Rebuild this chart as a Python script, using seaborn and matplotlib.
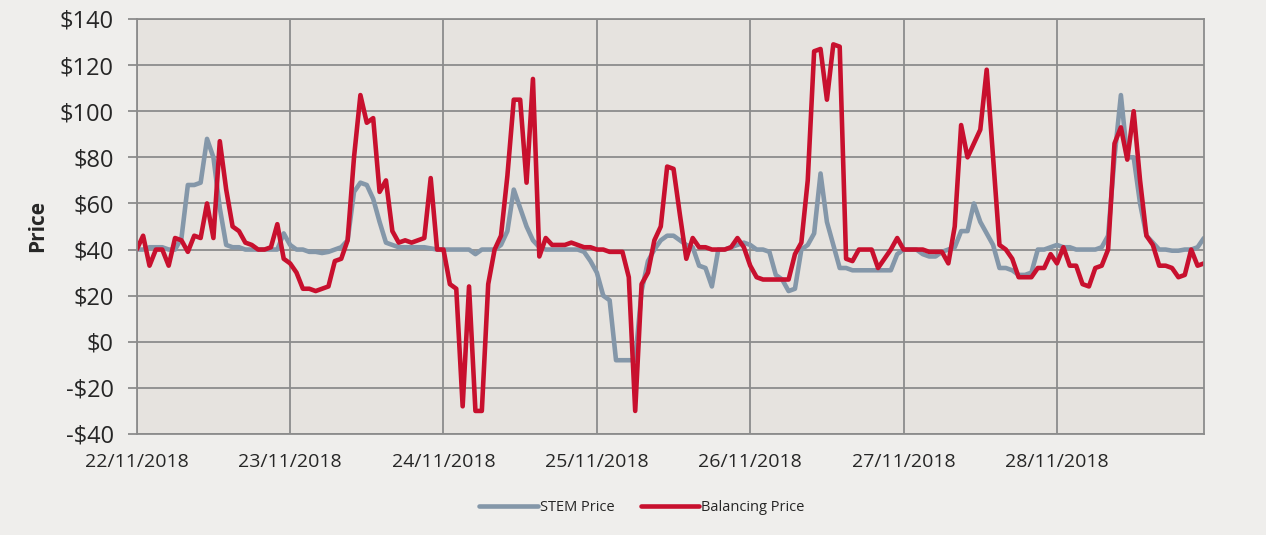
import numpy as np
import pandas as pd
import matplotlib
matplotlib.use("Agg")
import matplotlib.pyplot as plt
import seaborn as sns
from matplotlib.ticker import FuncFormatter

# hourly prices, 22/11/2018 - 28/11/2018 (one row = one day)
stem_price = [
    40, 40, 41, 41, 41, 40, 40, 45, 68, 68, 69, 88, 80, 58, 42, 41, 41, 40, 40, 40, 40, 40, 40, 47,
    42, 40, 40, 39, 39, 38.5, 39, 40, 41, 44, 65, 69, 68, 62, 52, 43, 42, 41, 41, 41, 41, 41, 40.5, 40,
    40, 40, 40, 40, 40, 38, 40, 40, 40, 42, 48, 66, 58, 50, 44, 41, 40, 40, 40, 40, 40, 40, 39, 35,
    30, 20, 18, -8, -8, -8, -8, 22, 35, 40, 44, 46, 46, 44, 42, 41, 33, 32, 24, 40, 40, 41, 42, 43,
    42, 40, 40, 39, 29, 27, 22, 23, 40, 42, 47, 73, 52, 42, 32, 32, 31, 31, 31, 31, 31, 31, 31, 38,
    40, 40, 40, 38, 37, 37, 39, 40, 41, 48, 48, 60, 52, 47, 42, 32, 32, 31, 29, 29, 30, 40, 40, 41,
    42, 41, 41, 40, 40, 40, 40, 41, 46, 80, 107, 80, 80, 60, 46, 43, 40, 40, 39.5, 39.5, 40, 40, 41, 45,
]
balancing_price = [
    40, 46, 33, 40, 40, 33, 45, 44, 39, 46, 45, 60, 45, 87, 66, 50, 48, 43, 42, 40, 40, 41, 51, 36,
    34, 30, 23, 23, 22, 23, 24, 35, 36, 44, 80, 107, 95, 97, 65, 70, 48, 43, 44, 43, 44, 45, 71, 40,
    40, 25, 23, -28, 24, -30, -30, 25, 40, 46, 72, 105, 105, 69, 114, 37, 45, 42, 42, 42, 43, 42, 41, 41,
    40, 40, 39, 39, 39, 28, -30, 25, 30, 44, 50, 76, 75, 55, 36, 45, 41, 41, 40, 40, 40, 41, 45, 41,
    33, 28, 27, 27, 27, 27, 27, 38, 43, 70, 126, 127, 105, 129, 128, 36, 35, 40, 40, 40, 32, 36, 40, 45,
    40, 40, 40, 40, 39, 39, 39, 34, 50, 94, 80, 86, 92, 118, 80, 42, 40, 36, 28, 28, 28, 32, 32, 38,
    34, 41, 33, 33, 25, 24, 32, 33, 40, 86, 93, 79, 100, 70, 46, 42, 33, 33, 32, 28, 29, 40, 33, 34,
]
day_labels = ["22/11/2018", "23/11/2018", "24/11/2018", "25/11/2018",
              "26/11/2018", "27/11/2018", "28/11/2018"]
y_ticks = list(range(-40, 141, 20))

grey = "#8497a9"
red = "#c8102e"
grid_col = "#8c8c8c"

sns.set_theme(style="whitegrid", rc={"figure.facecolor": "#efeeec",
                                     "axes.facecolor": "#e6e3df"})
plt.rcParams["font.family"] = ["Open Sans", "DejaVu Sans"]

x = np.arange(len(stem_price)) / 24
df = pd.DataFrame({"day": x, "STEM Price": stem_price, "Balancing Price": balancing_price})
long = df.melt(id_vars="day", var_name="series", value_name="price")

fig, ax = plt.subplots(figsize=(12.66, 5.35), dpi=100)
fig.subplots_adjust(left=0.108, right=0.951, top=0.9645, bottom=0.1888)

sns.lineplot(data=long, x="day", y="price", hue="series",
             palette={"STEM Price": grey, "Balancing Price": red},
             linewidth=3.3, ax=ax)

ax.set_xlim(0, x[-1])
ax.set_ylim(-40, 140)
ax.set_yticks(y_ticks)
ax.yaxis.set_major_formatter(FuncFormatter(lambda v, p: f"${v:.0f}" if v >= 0 else f"-${-v:.0f}"))
ax.set_xticks(range(len(day_labels)), labels=day_labels)
ax.set_xlabel("")
ax.set_ylabel("Price", fontweight="bold", fontsize=15, labelpad=8)

ax.grid(True, color=grid_col, linewidth=1.3)
ax.tick_params(axis="y", length=6.5, width=1.3, color=grid_col, pad=10, labelsize=17, left=True)
ax.tick_params(axis="x", length=0, pad=14, labelsize=14)
for s in ax.spines.values():
    s.set_color(grid_col)
    s.set_linewidth(1.3)

handles, labels = ax.get_legend_handles_labels()
ax.get_legend().remove()
fig.legend(handles, labels, loc="center", bbox_to_anchor=(0.507, 0.052), ncol=2,
           frameon=False, fontsize=10.5, handlelength=4.0, columnspacing=1.8,
           handletextpad=0.15)

fig.savefig("out.png", dpi=100, facecolor=fig.get_facecolor())
